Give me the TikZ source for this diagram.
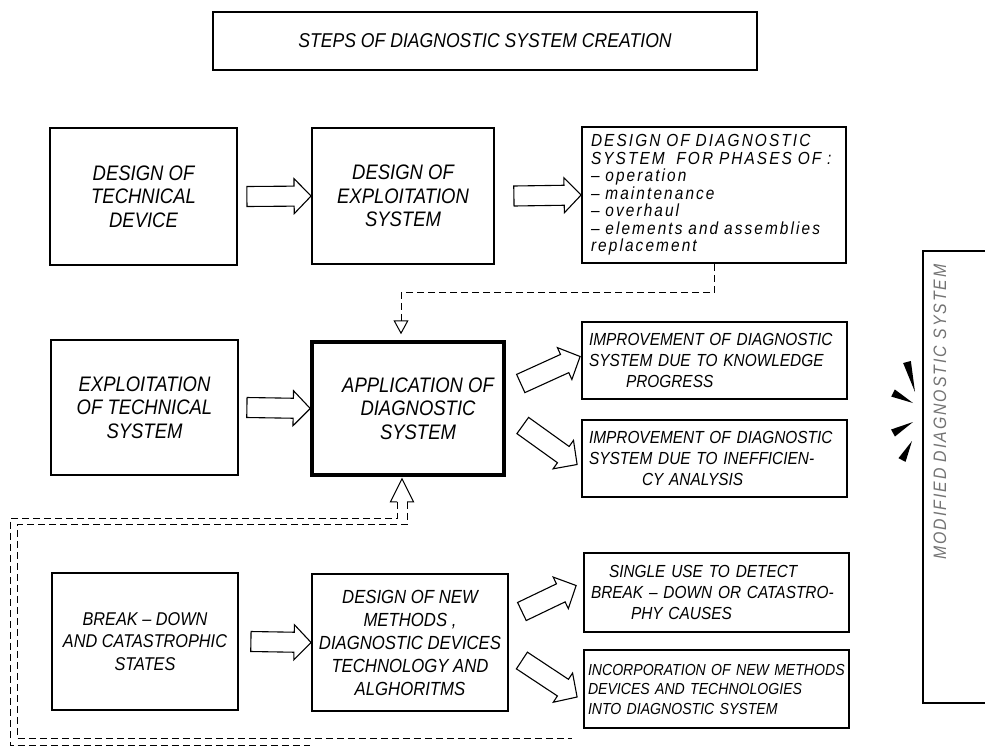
\documentclass[tikz,border=0pt]{standalone}
\usepackage{fontspec}
\newfontfamily\hand{Liberation Sans}[FakeStretch=0.88]
\usetikzlibrary{calc,arrows.meta}

\newcommand\blockarrow[3][]{%
  \coordinate (bas) at (#2);
  \coordinate (bae) at (#3);
  \coordinate (bah) at ($(bae)!17pt!(bas)$);
  \draw[blockarr,#1] ($(bas)!10pt!90:(bae)$) -- ($(bah)!10pt!90:(bae)$) -- ($(bah)!17.5pt!90:(bae)$) -- (bae) -- ($(bah)!17.5pt!-90:(bae)$) -- ($(bah)!10pt!-90:(bae)$) -- ($(bas)!10pt!-90:(bae)$) -- cycle;
}
\newcommand\raywedge[2]{\fill ($(#1)!4pt!90:(#2)$) -- (#2) -- ($(#1)!4pt!-90:(#2)$) -- cycle;}

\begin{document}
\begin{tikzpicture}[x=1pt,y=-1pt,
  box/.style={draw, line width=1.8pt, inner sep=0pt, align=center},
  big/.style={font=\hand\itshape\fontsize{21}{23.5}\selectfont},
  mid/.style={font=\hand\itshape\fontsize{19}{23}\selectfont},
  small/.style={font=\hand\itshape\fontsize{17.5}{21}\selectfont, align=left, text width=251},
  blockarr/.style={line width=1.1pt, line join=miter},
  dashl/.style={line width=0.9pt, dash pattern=on 7pt off 4pt}]
\useasboundingbox (0,0) rectangle (985,748);
\clip (0,0) rectangle (985,748);

% title
\node[box, minimum width=544, minimum height=58, font=\hand\itshape\fontsize{20}{24}\selectfont] (title) at (485,41) {STEPS OF DIAGNOSTIC SYSTEM CREATION};

% row 1
\node[box, big, minimum width=187, minimum height=137] (A) at (143.5,196.5) {DESIGN OF\\TECHNICAL\\DEVICE};
\node[box, big, minimum width=182, minimum height=136] (B) at (403,196) {DESIGN OF\\EXPLOITATION\\SYSTEM};
\node[box, minimum width=264, minimum height=136, align=left, text width=246,
  font=\hand\itshape\fontsize{17.5}{17.5}\selectfont\addfontfeature{LetterSpace=12}] (C) at (714,195)
  {DESIGN OF DIAGNOSTIC\\SYSTEM\ \ FOR PHASES OF :\\– operation\\– maintenance\\– overhaul\\– elements and assemblies\\replacement};

% row 2
\node[box, big, minimum width=187, minimum height=135] (D) at (144.5,407.5) {EXPLOITATION\\OF TECHNICAL\\SYSTEM};
\node[box, big, line width=3.5pt, minimum width=192, minimum height=133] (app) at (408,408.5)
  {\hspace*{20pt}APPLICATION OF\\\hspace*{20pt}DIAGNOSTIC\\\hspace*{20pt}SYSTEM};
\node[box, small, minimum width=265, minimum height=77] (E) at (714.5,360.5)
  {IMPROVEMENT OF DIAGNOSTIC\\SYSTEM DUE TO KNOWLEDGE\\\hspace*{37pt}PROGRESS};
\node[box, small, minimum width=265, minimum height=77] (F) at (714.5,458.5)
  {IMPROVEMENT OF DIAGNOSTIC\\SYSTEM DUE TO INEFFICIEN-\\\hspace*{53pt}CY ANALYSIS};

% row 3
\node[box, font=\hand\itshape\fontsize{18.5}{22.5}\selectfont, minimum width=186, minimum height=137] (G) at (145,641.5) {BREAK – DOWN\\AND CATASTROPHIC\\STATES};
\node[box, mid, minimum width=196, minimum height=137] (H) at (410,642.5) {DESIGN OF NEW\\METHODS ,\\DIAGNOSTIC DEVICES\\TECHNOLOGY AND\\ALGHORITMS};
\node[box, small, minimum width=265, minimum height=79] (I) at (716.5,592.5)
  {\hspace*{18pt}SINGLE USE TO DETECT\\BREAK – DOWN OR CATASTRO-\\\hspace*{40pt}PHY CAUSES};
\node[box, small, font=\hand\itshape\fontsize{16}{19.5}\selectfont, text width=257, minimum width=265, minimum height=78] (J) at (716.5,689)
  {INCORPORATION OF NEW METHODS\\DEVICES AND TECHNOLOGIES\\INTO DIAGNOSTIC SYSTEM};

% modified diagnostic system box (cut by the right edge)
\node[box, anchor=north west, minimum width=110, minimum height=452] (mod) at (922,250) {};
\node[rotate=90, text=black!55, font=\hand\itshape\fontsize{18}{20}\selectfont\addfontfeature{LetterSpace=11}] (modt) at (940,412) {MODIFIED DIAGNOSTIC SYSTEM};
\raywedge{907,362}{915,392}
\raywedge{893,393}{913,403}
\raywedge{893,433}{913,422}
\raywedge{902,460}{912,441}

% block arrows
\blockarrow{$(A.east)+(9,0)$}{B.west}
\blockarrow{$(B.east)+(19,0)$}{C.west}
\blockarrow{$(D.east)+(8,0)$}{app.west}
\blockarrow{$(G.east)+(12,0)$}{H.west}
\blockarrow{$(app.east)+(15,-25)$}{$(E.west)+(-1,-4)$}
\blockarrow{$(app.east)+(17,17)$}{$(F.west)+(-4,6)$}
\blockarrow{$(H.east)+(13,-31)$}{$(I.west)+(-7,-7)$}
\blockarrow{$(H.east)+(13,18)$}{$(J.west)+(-6,8)$}

% dashed connector from design of diagnostic system to application
\draw[dashl, -{Triangle[open, length=14pt, width=15pt, line width=1pt]}] (C.south) -- ++(0,29) -| ($(app.north)+(-7,-6)$);

% feedback pipe into application
\coordinate (fbtip) at ($(app.south)+(-6,2)$);
\draw[line width=1pt, line join=miter] ($(fbtip)+(-5,23)$) -- ($(fbtip)+(-11.5,23)$) -- (fbtip) -- ($(fbtip)+(11.5,23)$) -- ($(fbtip)+(5,23)$);
\coordinate (fbo1) at ($(fbtip)+(-5,40)$);
\coordinate (fbi1) at ($(fbtip)+(5,46)$);
\draw[dashl] ($(fbtip)+(-5,23)$) -- (fbo1) -- (fbo1 -| 10,0) -- (10,745) -- (310,745);
\draw[dashl] ($(fbtip)+(5,23)$) -- (fbi1) -- (fbi1 -| 17,0) -- (17,738) -- (572,738);
\end{tikzpicture}
\end{document}
